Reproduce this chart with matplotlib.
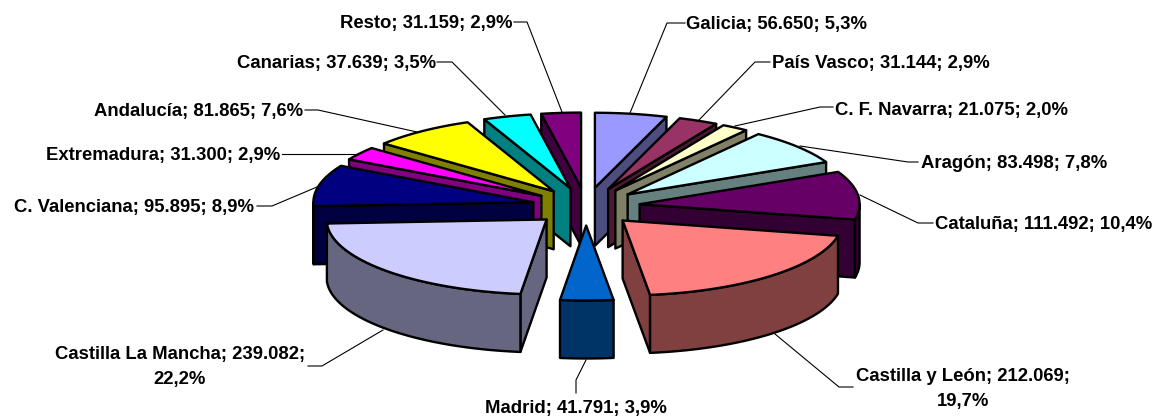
# Exploded 3D style pie, drawn by hand since matplotlib has no such pie
import numpy as np
import matplotlib
matplotlib.use("Agg")
import matplotlib.pyplot as plt
from matplotlib.colors import to_rgb
from matplotlib.patches import Polygon

# data
names = ["Galicia", "País Vasco", "C. F. Navarra", "Aragón", "Cataluña", "Castilla y León", "Madrid",
         "Castilla La Mancha", "C. Valenciana", "Extremadura", "Andalucía", "Canarias", "Resto"]
values = [56650, 31144, 21075, 83498, 111492, 212069, 41791, 239082, 95895, 31300, 81865, 37639, 31159]
colors = ["#9999FF", "#993366", "#FFFFCC", "#CCFFFF", "#660066", "#FF8080", "#0066CC",
          "#CCCCFF", "#000080", "#FF00FF", "#FFFF00", "#00FFFF", "#800080"]

# label anchor, and the leader line going from the label to the slice
label_pos = [(686, 24.5), (772, 63.5), (835, 110.5), (921, 164), (935, 224), (963, 389), (576, 408.5),
             (180, 367), (14, 207.5), (46, 155.5), (94, 111.5), (237, 63.5), (340, 23.5)]
label_ha = ["left", "left", "left", "left", "left", "center", "center",
            "center", "left", "left", "left", "left", "left"]
leaders = [[(685, 23), (667, 23), (630, 113)],
           [(770, 62), (755, 62), (699, 120)],
           [(833, 107), (820, 107), (735, 126)],
           [(918, 162), (908, 162), (800, 146)],
           [(933, 223), (918, 223), (860, 195)],
           [(853, 387), (839, 387), (775, 334)],
           [(576, 393), (576, 380), (586, 360)],
           [(308, 366), (322, 366), (383, 330)],
           [(257, 206), (272, 206), (317, 187)],
           [(282, 154), (358, 154)],
           [(305, 110), (318, 110), (417, 132)],
           [(437, 62), (452, 62), (505, 115)],
           [(514, 22), (527, 22), (562, 112)]]
wrapped = ["Castilla y León", "Castilla La Mancha"]

# pie geometry in pixels
cx, cy = 586, 206.5
rx, ry = 220, 75
ex, ey = 54, 19
depth = 58

plt.rcParams["font.family"] = ["Liberation Sans", "DejaVu Sans"]

fig = plt.figure(figsize=(11.6, 4.18), dpi=100)
ax = fig.add_axes([0, 0, 1, 1])
ax.set_xlim(0, 1160)
ax.set_ylim(418, 0)
ax.axis("off")

total = sum(values)
edges = np.cumsum([0] + values) / total * 2 * np.pi


def arc(x0, y0, a, b):
    n = max(int(np.degrees(b - a)), 2)
    t = np.linspace(a, b, n)
    return np.column_stack([x0 + rx * np.sin(t), y0 - ry * np.cos(t)])


def wall(pts, color):
    ax.add_patch(Polygon(pts, closed=True, fc=color, ec="black", lw=1.7, joinstyle="round"))


# back slices first, front slices paint over them
mids = (edges[:-1] + edges[1:]) / 2
for i in np.argsort(-np.cos(mids)):
    a, b, m = edges[i], edges[i + 1], mids[i]
    x0 = cx + ex * np.sin(m)
    y0 = cy - ey * np.cos(m)
    top = to_rgb(colors[i])
    side = tuple(c * 0.5 for c in top)
    apex = np.array([x0, y0])
    drop = np.array([0, depth])

    # radial walls, only when they face the viewer
    if np.sin(a) < 0:
        p = arc(x0, y0, a, a + 1e-4)[0]
        wall([apex, p, p + drop, apex + drop], side)
    if np.sin(b) > 0:
        p = arc(x0, y0, b - 1e-4, b)[-1]
        wall([apex, p, p + drop, apex + drop], side)

    # outer wall, front half of the ellipse only
    lo, hi = max(a, np.pi / 2), min(b, 3 * np.pi / 2)
    if hi > lo:
        rim = arc(x0, y0, lo, hi)
        wall(np.vstack([rim, rim[::-1] + drop]), side)

    wall(np.vstack([apex, arc(x0, y0, a, b)]), top)

# labels and leader lines
for name, v, pos, ha, line in zip(names, values, label_pos, label_ha, leaders):
    val = f"{v:,}".replace(",", ".")
    pct = f"{v / total * 100:.1f}".replace(".", ",")
    sep = "\n" if name in wrapped else " "
    ax.text(pos[0], pos[1], f"{name}; {val};{sep}{pct}%", ha=ha, va="center", multialignment="center",
            fontsize=13.3, fontweight="bold", color="black", linespacing=1.55)
    xs, ys = zip(*line)
    ax.plot(xs, ys, color="black", lw=0.8, zorder=1)

fig.savefig("out.png", dpi=100)
